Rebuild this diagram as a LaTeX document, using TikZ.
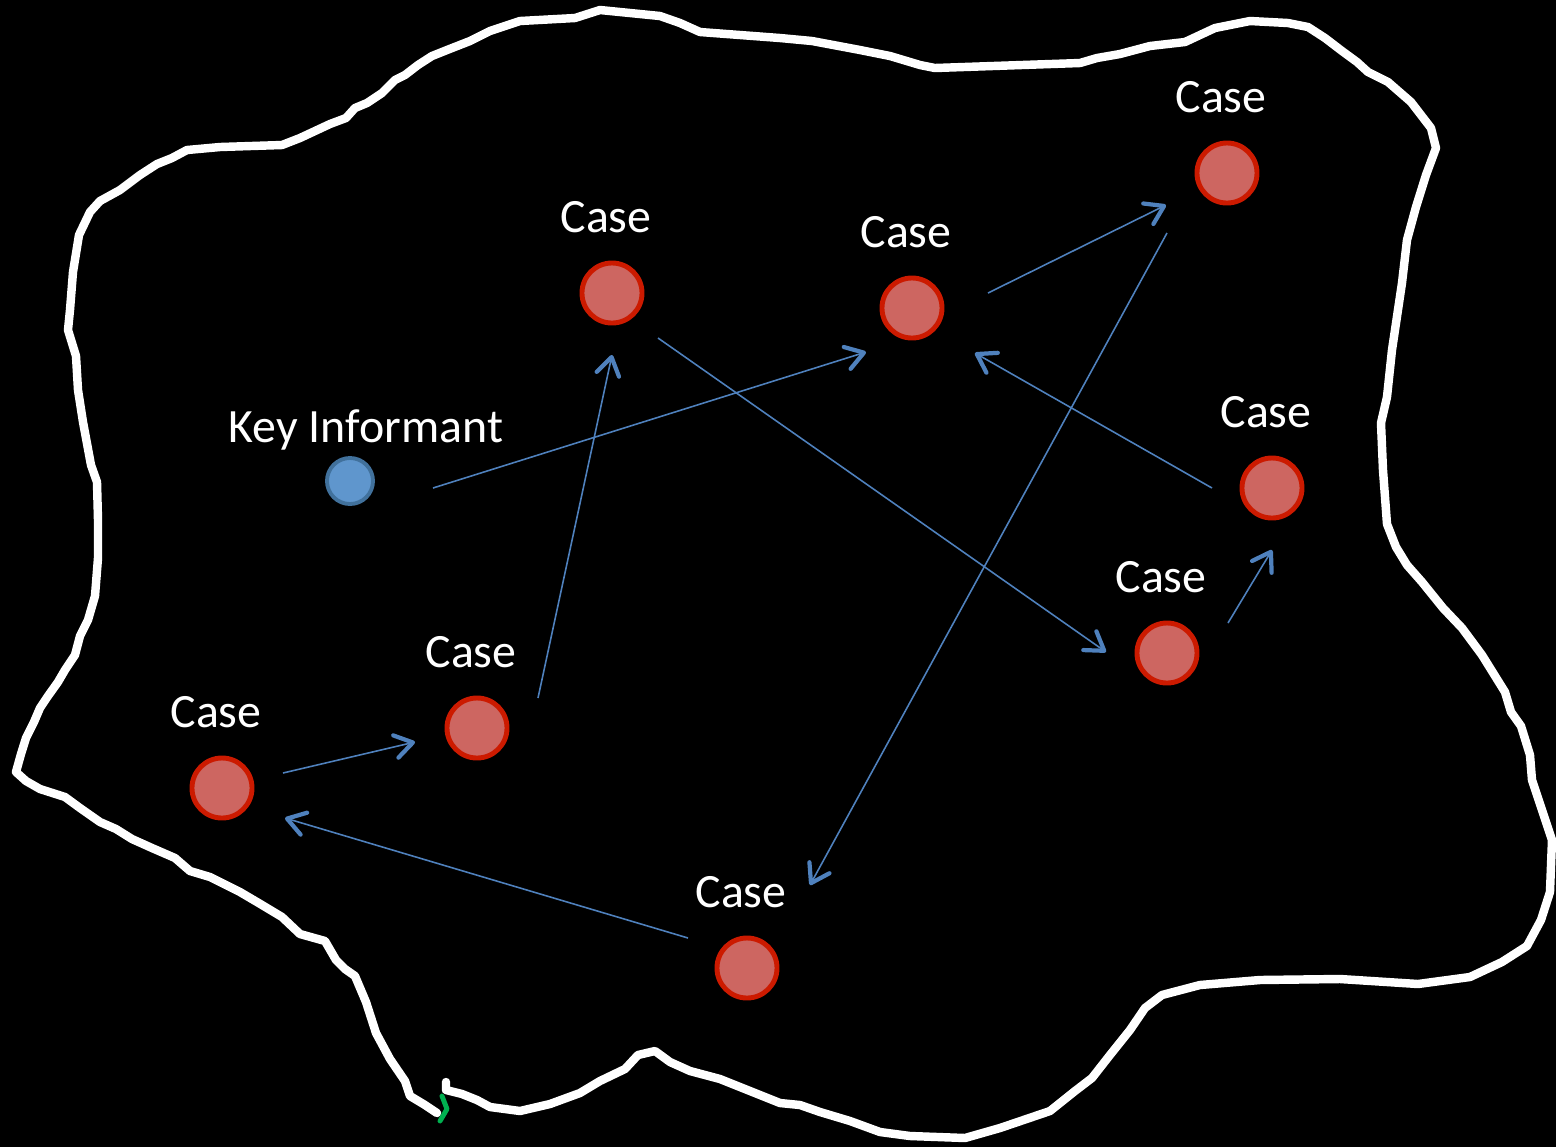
\documentclass[tikz,border=0pt]{standalone}
\usepackage{fontspec}
\setmainfont{Carlito}
\usetikzlibrary{arrows.meta}
\definecolor{caseface}{RGB}{205,102,97}
\definecolor{caseedge}{RGB}{204,26,0}
\definecolor{kiface}{RGB}{95,150,205}
\definecolor{kiedge}{RGB}{65,113,156}
\definecolor{linkblue}{RGB}{79,129,189}
\definecolor{tickgreen}{RGB}{0,176,80}
\tikzset{
  casenode/.style={circle, fill=caseface, draw=caseedge, line width=1.4pt, minimum size=0.6cm, inner sep=0pt},
  kinode/.style={circle, fill=kiface, draw=kiedge, line width=1.1pt, minimum size=0.46cm, inner sep=0pt},
  tag/.style={text=white, font=\fontsize{13.6}{16}\selectfont, anchor=base, inner sep=0pt},
  link/.style={draw=linkblue, line width=0.45pt,
    -{Straight Barb[length=5pt,width=6.5pt,line width=1.2pt,round]}},
  outline/.style={draw=white, line width=2.4pt, line join=round, line cap=round}
}
\begin{document}
\begin{tikzpicture}[x=0.01cm, y=-0.01cm]
  \fill[black] (0,0) rectangle (1556,1147);
  \useasboundingbox (0,0) rectangle (1556,1147);

  % community boundary
  \draw[outline] (446,1082) -- (446,1090) -- (462,1094) -- (477,1100) -- (490,1107)
    -- (520,1111) -- (550,1104) -- (580,1093) -- (600,1081) -- (625,1069) -- (638,1055)
    -- (655,1051) -- (670,1062) -- (690,1071) -- (720,1079) -- (750,1091) -- (780,1103)
    -- (800,1105) -- (820,1112) -- (850,1121) -- (880,1132) -- (910,1136) -- (965,1138)
    -- (1000,1128) -- (1050,1111) -- (1075,1091) -- (1092,1078) -- (1110,1055)
    -- (1130,1030) -- (1145,1008) -- (1162,995) -- (1200,985) -- (1260,980)
    -- (1340,979) -- (1418,984) -- (1470,977) -- (1502,962) -- (1527,946)
    -- (1541,920) -- (1550,892) -- (1552,840) -- (1542,810) -- (1532,780)
    -- (1530,755) -- (1521,726) -- (1511,712) -- (1505,692) -- (1482,655)
    -- (1462,628) -- (1443,608) -- (1422,582) -- (1407,565) -- (1396,547)
    -- (1387,524) -- (1383,470) -- (1381,423) -- (1387,397) -- (1392,350)
    -- (1402,283) -- (1407,240) -- (1416,207) -- (1426,175) -- (1436,148)
    -- (1431,128) -- (1411,102) -- (1388,82) -- (1368,72) -- (1357,62)
    -- (1342,51) -- (1325,38) -- (1308,27) -- (1288,23) -- (1250,21)
    -- (1215,28) -- (1185,42) -- (1150,46) -- (1120,54) -- (1097,58)
    -- (1080,63) -- (935,68) -- (920,65) -- (890,56) -- (860,50)
    -- (812,41) -- (780,38) -- (700,32) -- (680,23) -- (660,16)
    -- (600,10) -- (575,18) -- (520,21) -- (490,31) -- (470,41)
    -- (447,50) -- (432,56) -- (418,65) -- (405,75) -- (395,80)
    -- (382,93) -- (367,103) -- (355,108) -- (346,118) -- (330,124)
    -- (315,131) -- (300,138) -- (282,145) -- (220,147) -- (187,150)
    -- (172,158) -- (157,164) -- (140,175) -- (120,190) -- (100,201)
    -- (90,212) -- (79,235) -- (73,272) -- (70,310) -- (68,330)
    -- (76,356) -- (78,390) -- (83,422) -- (91,465) -- (97,482)
    -- (98,520) -- (98,558) -- (95,596) -- (88,620) -- (80,636)
    -- (75,655) -- (65,670) -- (58,682) -- (48,696) -- (40,708)
    -- (34,722) -- (26,738) -- (21,754) -- (16,772) -- (26,781)
    -- (40,789) -- (65,797) -- (80,808) -- (100,822) -- (116,829)
    -- (132,839) -- (152,848) -- (175,858) -- (190,871) -- (210,877)
    -- (240,892) -- (257,902) -- (282,917) -- (300,934) -- (325,941)
    -- (336,960) -- (345,969) -- (355,976) -- (366,1002) -- (376,1033)
    -- (390,1059) -- (405,1081) -- (410,1096) -- (425,1105) -- (437,1113);
  \draw[tickgreen, line width=1.4pt, line cap=round, line join=round]
    (442,1096) -- (447,1109) -- (440,1121);

  % people reached in the chain
  \node[kinode]   (ki) at (350,481)  {};
  \node[casenode] (c1) at (612,293)  {};
  \node[casenode] (c2) at (912,308)  {};
  \node[casenode] (c3) at (1227,173) {};
  \node[casenode] (c4) at (1272,488) {};
  \node[casenode] (c5) at (1167,653) {};
  \node[casenode] (c6) at (477,728)  {};
  \node[casenode] (c7) at (222,788)  {};
  \node[casenode] (c8) at (747,968)  {};

  \node[tag] (tki) at ([shift={(16,-39)}]ki.center) {Key Informant};
  \foreach \c in {c1,c2,c3,c4,c5,c6,c7,c8}
    \node[tag] (t\c) at ([shift={(-6,-61)}]\c.center) {Case};

  % referrals
  \draw[link] ([shift={(83,7)}]ki.center)   -- ([shift={(-46,44)}]c2.center);
  \draw[link] ([shift={(61,-15)}]c7.center) -- ([shift={(-62,14)}]c6.center);
  \draw[link] ([shift={(61,-30)}]c6.center) -- ([shift={(0,62)}]c1.center);
  \draw[link] ([shift={(46,45)}]c1.center)  -- ([shift={(-61,-1)}]c5.center);
  \draw[link] ([shift={(76,-15)}]c2.center) -- ([shift={(-61,32)}]c3.center);
  \draw[link] ([shift={(-60,0)}]c4.center)  -- ([shift={(63,45)}]c2.center);
  \draw[link] ([shift={(-60,60)}]c3.center) -- ([shift={(63,-83)}]c8.center);
  \draw[link] ([shift={(61,-30)}]c5.center) -- ([shift={(0,62)}]c4.center);
  \draw[link] ([shift={(-59,-30)}]c8.center) -- ([shift={(63,30)}]c7.center);
\end{tikzpicture}
\end{document}
